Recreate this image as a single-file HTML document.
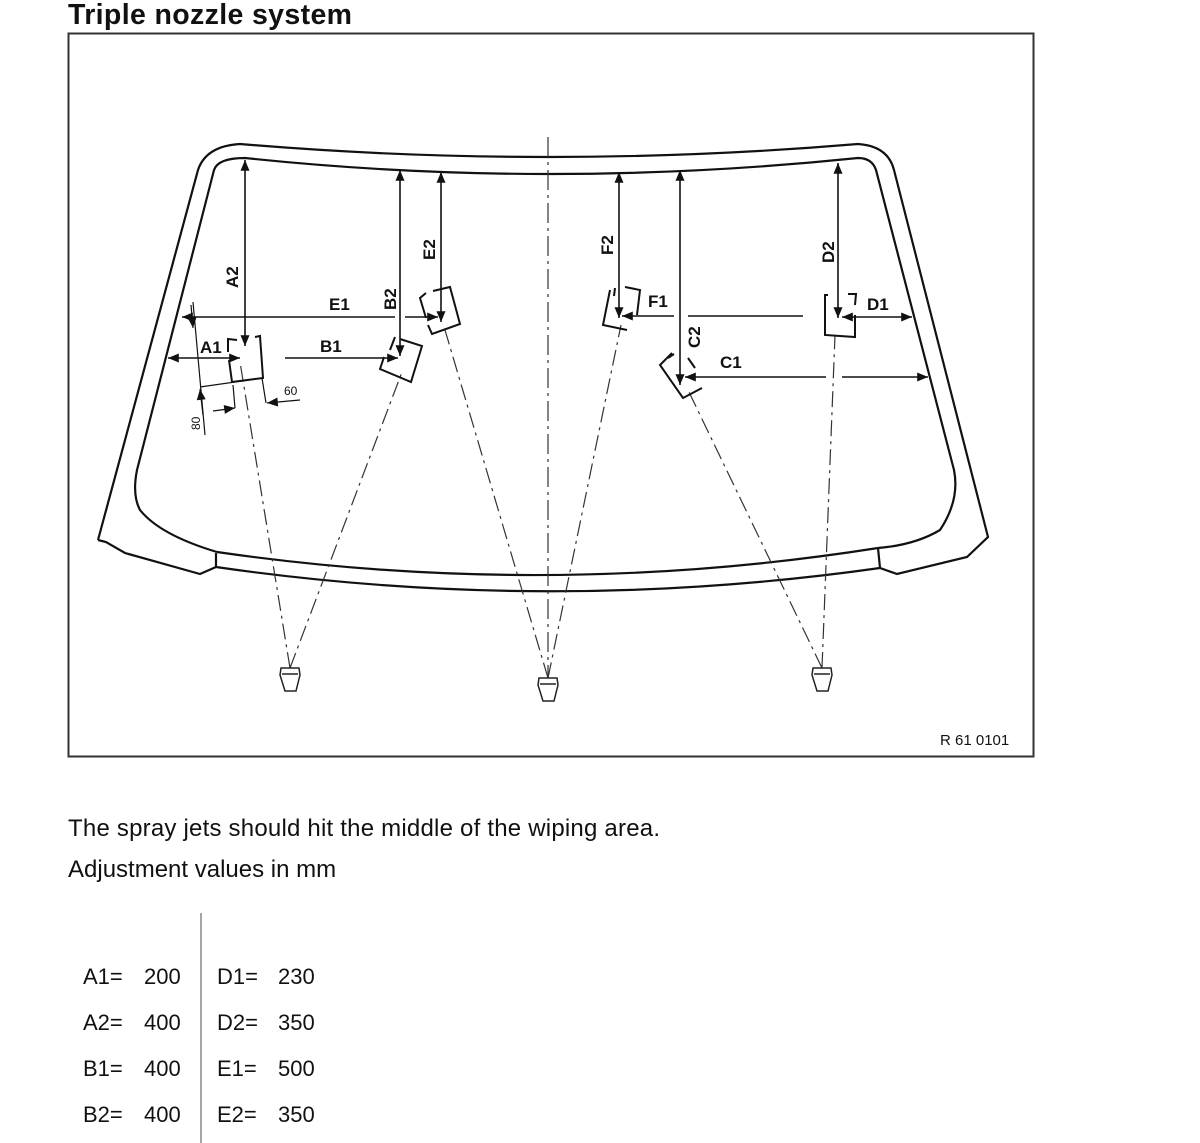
<!DOCTYPE html>
<html><head><meta charset="utf-8"><style>
html,body{margin:0;padding:0;background:#fff;}
svg{display:block;}
text{font-family:"Liberation Sans",Arial,sans-serif;fill:#111;}
</style></head><body>
<svg width="1200" height="1143" viewBox="0 0 1200 1143" xmlns="http://www.w3.org/2000/svg">
<defs>
<marker id="ar" viewBox="0 0 12 10" refX="12" refY="5" markerWidth="13" markerHeight="9" orient="auto-start-reverse" markerUnits="userSpaceOnUse"><path d="M0,0 L12,5 L0,10 z" fill="#111"/></marker>
</defs>
<text x="68" y="24" font-size="28.5" font-weight="bold" textLength="284">Triple nozzle system</text>
<rect x="68.5" y="33.5" width="965" height="723" fill="none" stroke="#333" stroke-width="2"/>

<g fill="none" stroke="#111" stroke-width="2.2">
<path d="M98,540 L198,170 Q206,146 240,144 Q548,170 858,144 Q888,146 894,170 L988,537 L967,557 L897,574 L880,568 M98,540 L106,542 L125,553 L200,574 L216,567"/>
<path d="M217,552 Q160,535 140,510 Q132,495 137,470 L214,170 Q218,158 245,158 Q548,190 858,158 Q872,158 876,170 L954,470 Q960,500 940,530 Q915,545 878,548"/>
<path d="M217,552 Q548,600 878,548"/>
<path d="M216,567 Q548,615 880,568"/>
<path d="M216,553 L216,567 M878,548 L880,568"/>
</g>

<line x1="548" y1="137" x2="548" y2="700" stroke="#333" stroke-width="1.2" stroke-dasharray="20,5,3,5"/>

<g stroke="#333" stroke-width="1.2" stroke-dasharray="16,5,3,5" fill="none">
<path d="M290,668 L240,362 M290,668 L402,372"/>
<path d="M548,678 L445,330 M548,678 L621,325"/>
<path d="M822,668 L688,390 M822,668 L835,335"/>
</g>

<g fill="#fff" stroke="#222" stroke-width="1.5">
<path d="M281,668 L299,668 L300,675 L296,691 L285,691 L280,675 Z M282,674 L298,674"/>
<path d="M539,678 L557,678 L558,685 L554,701 L543,701 L538,685 Z M540,684 L556,684"/>
<path d="M813,668 L831,668 L832,675 L828,691 L817,691 L812,675 Z M814,674 L830,674"/>
</g>

<g fill="none" stroke="#111" stroke-width="2">
<path d="M237,340 L228,339 L228,352 M255,337 L260,336 L263,378 L232,382 L229,360"/>
<path d="M395,337 L390,350 M400,339 L422,346 L411,382 L380,369 L384,357"/>
<path d="M426,293 L420,298 L426,318 M433,291 L450,287 L460,324 L432,334 L428,325"/>
<path d="M610,290 L603,325 L627,330 M615,288 L614,296 M625,287 L640,290 L637,315"/>
<path d="M672,353 L660,365 L683,398 L702,388 M668,358 L674,354 M688,358 L695,368"/>
<path d="M828,295 L825,295 L825,335 L855,337 L855,315 M848,294 L856,294 L855,305"/>
</g>

<g stroke="#111" stroke-width="1.6" fill="none">
<line x1="245" y1="160" x2="245" y2="346" marker-start="url(#ar)" marker-end="url(#ar)"/>
<line x1="400" y1="170" x2="400" y2="356" marker-start="url(#ar)" marker-end="url(#ar)"/>
<line x1="441" y1="172" x2="441" y2="322" marker-start="url(#ar)" marker-end="url(#ar)"/>
<line x1="619" y1="172" x2="619" y2="318" marker-start="url(#ar)" marker-end="url(#ar)"/>
<line x1="680" y1="170" x2="680" y2="385" marker-start="url(#ar)" marker-end="url(#ar)"/>
<line x1="838" y1="163" x2="838" y2="318" marker-start="url(#ar)" marker-end="url(#ar)"/>
<path d="M182,317 L395,317" marker-start="url(#ar)"/>
<path d="M405,317 L438,317" marker-end="url(#ar)"/>
<line x1="168" y1="358" x2="240" y2="358" marker-start="url(#ar)" marker-end="url(#ar)"/>
<line x1="285" y1="358" x2="398" y2="358" marker-end="url(#ar)"/>
<path d="M803,316 L688,316 M674,316 L622,316" marker-end="url(#ar)"/>
<line x1="842" y1="317" x2="912" y2="317" marker-start="url(#ar)" marker-end="url(#ar)"/>
<path d="M826,377 L685,377" marker-end="url(#ar)"/>
<path d="M842,377 L928,377" marker-end="url(#ar)"/>
<line x1="193" y1="302" x2="205" y2="435" stroke-width="1.2"/>
<line x1="200" y1="387" x2="263" y2="378" stroke-width="1.2"/>
<path d="M233,385 L235,408 M262,378 L266,403" stroke-width="1.2"/>
<line x1="213" y1="411" x2="235" y2="408" stroke-width="1.2" marker-end="url(#ar)"/>
<line x1="300" y1="400" x2="267" y2="403" stroke-width="1.2" marker-end="url(#ar)"/>
<line x1="203" y1="415" x2="200" y2="389" stroke-width="1.2" marker-end="url(#ar)"/>
<line x1="191" y1="305" x2="193" y2="328" stroke-width="1.2" marker-end="url(#ar)"/>
</g>

<g font-size="17" font-weight="bold">
<text x="329" y="310">E1</text>
<text x="200" y="353">A1</text>
<text x="320" y="352">B1</text>
<text x="648" y="307">F1</text>
<text x="867" y="310">D1</text>
<text x="720" y="368">C1</text>
<text transform="translate(238,288) rotate(-90)">A2</text>
<text transform="translate(396,310) rotate(-90)">B2</text>
<text transform="translate(435,260) rotate(-90)">E2</text>
<text transform="translate(613,255) rotate(-90)">F2</text>
<text transform="translate(700,348) rotate(-90)">C2</text>
<text transform="translate(834,263) rotate(-90)">D2</text>
</g>
<text x="284" y="395" font-size="12">60</text>
<text transform="translate(200,430) rotate(-90)" font-size="12">80</text>
<text x="940" y="745" font-size="15">R 61 0101</text>

<text x="68" y="836" font-size="24" textLength="592">The spray jets should hit the middle of the wiping area.</text>
<text x="68" y="877" font-size="24">Adjustment values in mm</text>
<line x1="201" y1="913" x2="201" y2="1143" stroke="#888" stroke-width="1.5"/>
<g font-size="22">
<text x="83" y="984">A1=</text><text x="144" y="984">200</text>
<text x="83" y="1030">A2=</text><text x="144" y="1030">400</text>
<text x="83" y="1076">B1=</text><text x="144" y="1076">400</text>
<text x="83" y="1122">B2=</text><text x="144" y="1122">400</text>
<text x="217" y="984">D1=</text><text x="278" y="984">230</text>
<text x="217" y="1030">D2=</text><text x="278" y="1030">350</text>
<text x="217" y="1076">E1=</text><text x="278" y="1076">500</text>
<text x="217" y="1122">E2=</text><text x="278" y="1122">350</text>
</g>
</svg>
</body></html>
